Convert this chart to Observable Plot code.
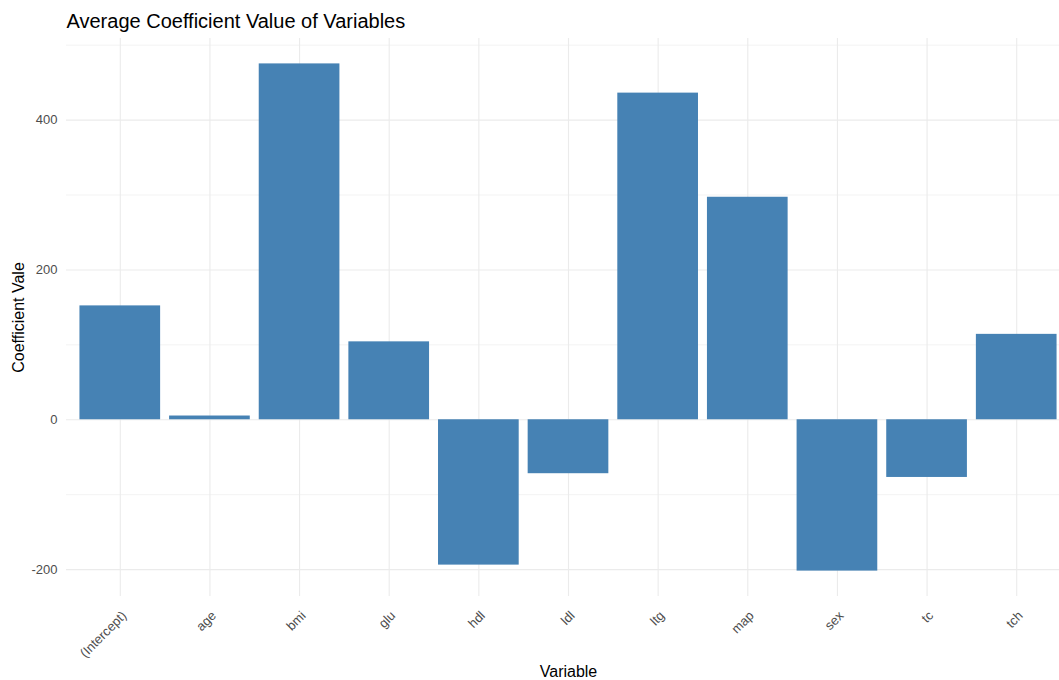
<!DOCTYPE html>
<html>
<head>
<meta charset="utf-8">
<script src="https://cdn.jsdelivr.net/npm/d3@7"></script>
<script src="https://cdn.jsdelivr.net/npm/@observablehq/plot@0.6"></script>
<style>
  html, body { margin: 0; padding: 0; background: #fff; }
  #chart svg { display: block; }
</style>
</head>
<body>
<div id="chart"></div>
<script>
const variables = ["(Intercept)", "age", "bmi", "glu", "hdl", "ldl", "ltg", "map", "sex", "tc", "tch"];
const values = [152, 5, 475, 104, -194, -72, 436, 297, -202, -77, 114];
const majorTicks = [-200, 0, 200, 400];
const minorTicks = [-100, 100, 300, 500];
const titleText = "Average Coefficient Value of Variables";
const xLabel = "Variable";
const yLabel = "Coefficient Vale";

const data = variables.map((v, i) => ({variable: v, value: values[i]}));
const font = "'Liberation Sans', Arial, Helvetica, sans-serif";

const chart = Plot.plot({
  width: 1059,
  height: 680,
  marginTop: 38,
  marginBottom: 84,
  marginLeft: 66,
  marginRight: -11,
  style: {fontFamily: font, background: "#fff", overflow: "hidden"},
  x: {domain: variables, paddingInner: 0.1, paddingOuter: 0.15, round: false},
  y: {domain: [-235.9, 508.9]},
  marks: [
    Plot.gridY(minorTicks, {stroke: "#ebebeb", strokeOpacity: 1, strokeWidth: 0.6}),
    Plot.gridY(majorTicks, {stroke: "#ebebeb", strokeOpacity: 1, strokeWidth: 1.1}),
    Plot.gridX(variables, {stroke: "#ebebeb", strokeOpacity: 1, strokeWidth: 1.1}),
    Plot.barY(data, {x: "variable", y: "value", fill: "#4682b4"}),
    Plot.axisY(majorTicks, {tickSize: 0, tickPadding: 9, label: null, fontSize: 13, fill: "#4d4d4d", tickFormat: d => String(d)}),
    Plot.axisX({tickSize: 0, tickPadding: 6, tickRotate: -45, label: null, fontSize: 13, fill: "#4d4d4d", textAnchor: "end", dx: 4, dy: 11}),
    Plot.text([titleText], {frameAnchor: "top-left", dy: -11, lineAnchor: "bottom", textAnchor: "start", fontSize: 20, fill: "#000"}),
    Plot.text([xLabel], {frameAnchor: "bottom", dy: 75, lineAnchor: "middle", fontSize: 16, fill: "#000"}),
    Plot.text([yLabel], {frameAnchor: "left", dx: -48, rotate: -90, lineAnchor: "middle", textAnchor: "middle", fontSize: 16, fill: "#000"})
  ]
});
document.getElementById("chart").appendChild(chart);
</script>
</body>
</html>
